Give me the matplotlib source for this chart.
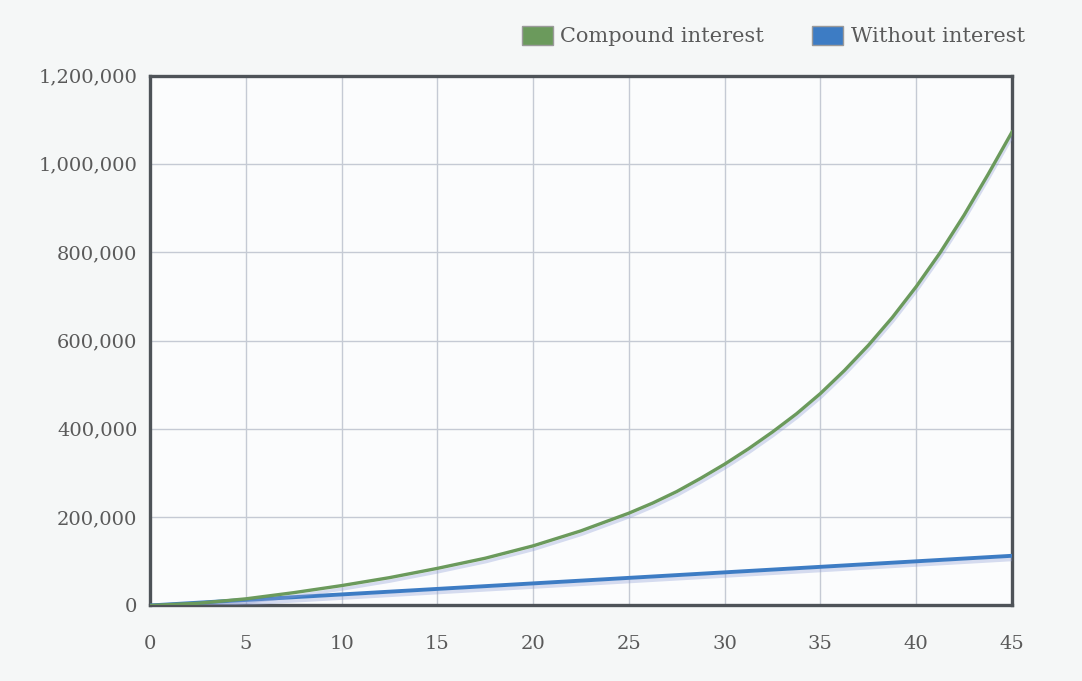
import numpy as np
import matplotlib
matplotlib.use("Agg")
import matplotlib.pyplot as plt
import matplotlib.patheffects as pe
from matplotlib.patches import Patch
from matplotlib.ticker import FuncFormatter

# data (years, value)
years = [0, 2.5, 5, 7.5, 10, 12.5, 15, 17.5, 20, 22.5, 25, 26.25, 27.5, 28.75, 30,
         31.25, 32.5, 33.75, 35, 36.25, 37.5, 38.75, 40, 41.25, 42.5, 43.75, 45]
compound = [0, 5000, 15000, 29000, 45000, 63000, 84000, 107000, 135000, 169000, 209000,
            232000, 258000, 288000, 320000, 355000, 393000, 434000, 480000, 532000,
            589000, 652000, 722000, 799000, 884000, 976000, 1072000]
no_years = [0, 5, 10, 15, 20, 25, 30, 35, 40, 45]
no_interest = [0, 12500, 25000, 37500, 50000, 62500, 75000, 87500, 100000, 112500]
xticks = [0, 5, 10, 15, 20, 25, 30, 35, 40, 45]
yticks = [0, 200000, 400000, 600000, 800000, 1000000, 1200000]

green = '#6b9a5c'
blue = '#3d7cc4'
txt = '#5a5a5a'
bg = '#f5f7f7'

plt.rcParams['font.family'] = ['DejaVu Serif']

fig = plt.figure(figsize=(10.82, 6.81), dpi=100, facecolor=bg)
ax = fig.add_axes([0.1386, 0.1109, 0.7967, 0.7782])
ax.set_facecolor('#fbfcfd')

shadow = [pe.SimpleLineShadow(offset=(0.5, -2.5), shadow_color='#8e9ed6', alpha=0.35),
          pe.Normal()]
ax.plot(no_years, no_interest, color=blue, lw=2.8, path_effects=shadow, zorder=3)
ax.plot(years, compound, color=green, lw=2.4, path_effects=shadow, zorder=4,
        solid_joinstyle='round')

ax.set_xlim(0, 45)
ax.set_ylim(0, 1200000)
ax.set_xticks(xticks)
ax.set_yticks(yticks)
ax.yaxis.set_major_formatter(FuncFormatter(lambda v, p: '{:,.0f}'.format(v)))
ax.grid(True, color='#c5cad4', lw=1.0)
ax.set_axisbelow(True)

for s in ax.spines.values():
    s.set_color('#4e5358')
    s.set_linewidth(2.4)

ax.tick_params(axis='both', length=0, labelsize=14, labelcolor=txt)
ax.tick_params(axis='y', pad=9)
ax.tick_params(axis='x', pad=21)

handles = [Patch(facecolor=green, edgecolor='#9a9a9a', label='Compound interest'),
           Patch(facecolor=blue, edgecolor='#9a9a9a', label='Without interest')]
leg = fig.legend(handles=handles, loc='center right', bbox_to_anchor=(0.947, 0.947),
                 ncol=2, frameon=False, fontsize=15, handlelength=1.5, handleheight=1.05,
                 handletextpad=0.35, columnspacing=2.3, borderaxespad=0, borderpad=0)
for t in leg.get_texts():
    t.set_color(txt)

fig.savefig('out.png', dpi=100, facecolor=bg)
